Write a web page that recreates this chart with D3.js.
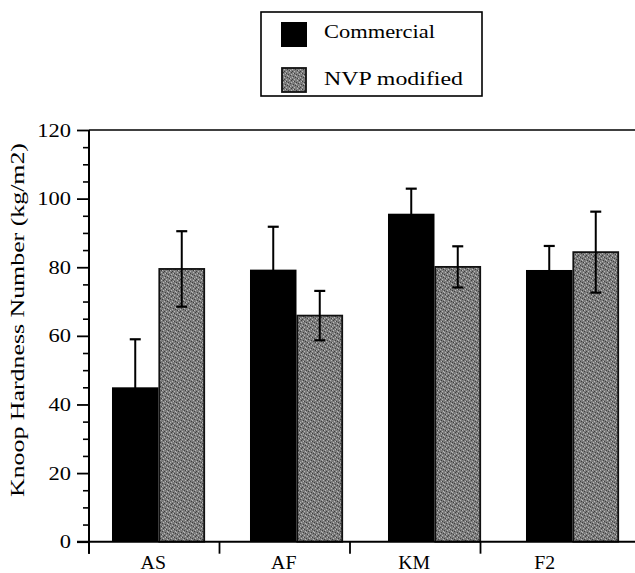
<!DOCTYPE html>
<html>
<head>
<meta charset="utf-8">
<script src="https://cdn.jsdelivr.net/npm/d3@7"></script>
<style>
  html, body { margin: 0; padding: 0; background: #fff; }
  svg { display: block; }
  text { font-family: "Liberation Serif", "Times New Roman", serif; fill: #000; }
</style>
</head>
<body>
<svg id="chart" width="635" height="573"></svg>
<script>
const categories = ["AS", "AF", "KM", "F2"];
const seriesNames = ["Commercial", "NVP modified"];
const commercial = [45, 79.3, 95.6, 79.2];
const commercialErr = [14, 12.5, 7.3, 7];
const nvp = [79.5, 65.9, 80.1, 84.4];
const nvpErr = [11, 7.2, 6, 11.8];
const yTicks = [0, 20, 40, 60, 80, 100, 120];

(function () {
const svg = d3.select("#chart");
const pLeft = 89, pTop = 130, pBottom = 541.7, pRight = 636;

const y = d3.scaleLinear().domain([0, 120]).range([pBottom, pTop]);
const xCat = d3.scaleBand().domain(categories).range([pLeft, 611]);
const xBar = d3.scaleBand().domain(categories).range([89.5, 641.5]).paddingInner(0.326).paddingOuter(0.163);
const xSub = d3.scaleBand().domain(seriesNames).range([0, xBar.bandwidth()]);

// stipple pattern for the grey series (fixed hand-placed speckles)
const defs = svg.append("defs");
const pat = defs.append("pattern").attr("id", "stip").attr("patternUnits", "userSpaceOnUse")
  .attr("width", 8).attr("height", 8);
pat.append("rect").attr("width", 8).attr("height", 8).attr("fill", "#7c7c7c");
const light = [[1,0],[5,1],[3,2],[7,3],[0,4],[4,5],[2,6],[6,7]];
const dark = [[3,0],[0,2],[6,1],[5,4],[2,3],[1,6],[7,5],[4,7]];
light.forEach(([x, yy]) => pat.append("rect").attr("x", x).attr("y", yy).attr("width", 1).attr("height", 1)
  .attr("fill", "#b8b8b8").attr("shape-rendering", "crispEdges"));
dark.forEach(([x, yy]) => pat.append("rect").attr("x", x).attr("y", yy).attr("width", 1).attr("height", 1)
  .attr("fill", "#404040").attr("shape-rendering", "crispEdges"));

// top frame line
svg.append("line").attr("x1", pLeft).attr("x2", pRight).attr("y1", y(120)).attr("y2", y(120))
  .attr("stroke", "#000").attr("stroke-width", 1.6);

// bars
const groups = svg.append("g").selectAll("g").data(categories).join("g")
  .attr("transform", d => `translate(${xBar(d)},0)`);
const rows = categories.map((c, i) => [
  { s: seriesNames[0], v: commercial[i], e: commercialErr[i] },
  { s: seriesNames[1], v: nvp[i], e: nvpErr[i] }
]);
groups.each(function (c, i) {
  const g = d3.select(this);
  rows[i].forEach(r => {
    const isC = r.s === seriesNames[0];
    g.append("rect")
      .attr("x", xSub(r.s) + (isC ? 0 : 0.8))
      .attr("y", y(r.v))
      .attr("width", xSub.bandwidth() - (isC ? 0 : 1.6))
      .attr("height", pBottom - y(r.v))
      .attr("fill", isC ? "#000" : "url(#stip)")
      .attr("stroke", isC ? "none" : "#111")
      .attr("stroke-width", isC ? 0 : 1.8);
    const cx = xSub(r.s) + xSub.bandwidth() / 2;
    g.append("line").attr("x1", cx).attr("x2", cx).attr("y1", y(r.v - r.e)).attr("y2", y(r.v + r.e))
      .attr("stroke", "#000").attr("stroke-width", 2);
    [r.v - r.e, r.v + r.e].forEach(t => {
      g.append("line").attr("x1", cx - 5.5).attr("x2", cx + 5.5).attr("y1", y(t)).attr("y2", y(t))
        .attr("stroke", "#000").attr("stroke-width", 2.2);
    });
  });
});

// y axis
const yAxis = svg.append("g").attr("transform", `translate(${pLeft},0)`)
  .call(d3.axisLeft(y).tickValues(yTicks).tickSize(12).tickFormat(d3.format("d")));
yAxis.select(".domain").remove();
yAxis.selectAll(".tick line").attr("stroke", "#000").attr("stroke-width", 1.8);
yAxis.selectAll(".tick text")
  .style("font-size", "18px").style("font-family", "'Liberation Serif', serif").attr("fill", "#000")
  .attr("x", -14.4).attr("dy", "0.34em").attr("transform", "scale(1.25,1)");
const minor = d3.range(0, 121, 5).filter(v => v % 20 !== 0);
svg.append("g").attr("transform", `translate(${pLeft},0)`)
  .call(d3.axisLeft(y).tickValues(minor).tickSize(6).tickFormat(""))
  .call(g => g.select(".domain").remove())
  .selectAll("line").attr("stroke", "#000").attr("stroke-width", 1.6);
svg.append("line").attr("x1", pLeft).attr("x2", pLeft).attr("y1", y(120)).attr("y2", pBottom + 12)
  .attr("stroke", "#000").attr("stroke-width", 2);

// x axis
svg.append("line").attr("x1", pLeft - 12).attr("x2", pRight).attr("y1", pBottom).attr("y2", pBottom)
  .attr("stroke", "#000").attr("stroke-width", 2);
svg.append("g").selectAll("line").data(categories).join("line")
  .attr("x1", d => xCat(d)).attr("x2", d => xCat(d)).attr("y1", pBottom).attr("y2", pBottom + 12)
  .attr("stroke", "#000").attr("stroke-width", 1.8);
svg.append("g").selectAll("text").data(categories).join("text")
  .attr("transform", d => `translate(${xCat(d) + xCat.bandwidth() / 2 - 1},569) scale(1.1,1)`)
  .attr("text-anchor", "middle").style("font-size", "18px").text(d => d);

// y title
svg.append("text").attr("transform", `translate(24,497) rotate(-90)`)
  .attr("text-anchor", "start").style("font-size", "18px")
  .attr("textLength", 354).attr("lengthAdjust", "spacingAndGlyphs")
  .text("Knoop Hardness Number (kg/m2)");

// legend
const lg = svg.append("g");
lg.append("rect").attr("x", 261).attr("y", 12).attr("width", 221).attr("height", 84)
  .attr("fill", "#fff").attr("stroke", "#000").attr("stroke-width", 1.6);
lg.append("rect").attr("x", 281).attr("y", 22).attr("width", 26).attr("height", 25).attr("fill", "#000");
lg.append("rect").attr("x", 282).attr("y", 68).attr("width", 24).attr("height", 24)
  .attr("fill", "url(#stip)").attr("stroke", "#111").attr("stroke-width", 1.8);
lg.append("text").attr("x", 324).attr("y", 37.5).style("font-size", "19px")
  .attr("textLength", 111).attr("lengthAdjust", "spacingAndGlyphs").text(seriesNames[0]);
lg.append("text").attr("x", 324).attr("y", 85).style("font-size", "19px")
  .attr("textLength", 139).attr("lengthAdjust", "spacingAndGlyphs").text(seriesNames[1]);
})();
</script>
</body>
</html>
